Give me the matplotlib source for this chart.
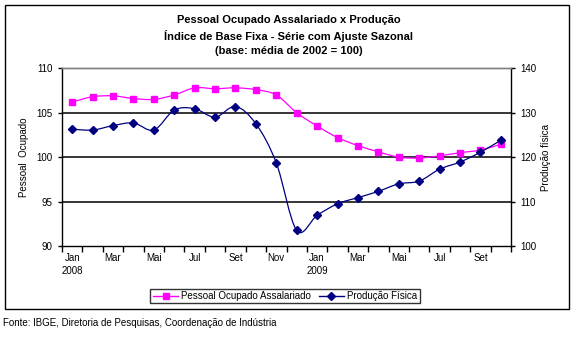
import matplotlib.pyplot as plt
from matplotlib.patches import PathPatch, Rectangle
from matplotlib.lines import Line2D
from matplotlib.path import Path
import numpy as np

plt.rcParams["font.family"] = ["Liberation Sans", "DejaVu Sans"]

months = ["Jan", "Fev", "Mar", "Abr", "Mai", "Jun", "Jul", "Ago", "Set", "Out", "Nov", "Dez",
          "Jan", "Fev", "Mar", "Abr", "Mai", "Jun", "Jul", "Ago", "Set", "Out"]
years = {0: "2008", 12: "2009"}

# Pessoal ocupado assalariado (eixo esquerdo)
pessoal = [106.2, 106.8, 106.9, 106.6, 106.5, 107.0, 107.8, 107.7, 107.8, 107.6, 107.0, 105.0,
           103.5, 102.2, 101.3, 100.6, 100.0, 99.9, 100.15, 100.5, 100.8, 101.45]
# Produção física (eixo direito)
producao = [126.3, 126.1, 127.1, 127.7, 126.1, 130.6, 130.9, 129.0, 131.4, 127.5, 118.7, 103.5,
            106.9, 109.5, 110.9, 112.3, 114.0, 114.6, 117.3, 118.9, 121.1, 123.8]

PINK = "#FF00FF"
NAVY = "#000080"
W, H = 578, 338


def smooth_path(x, y):
    # curva suavizada por segmentos de Bézier (tipo Catmull-Rom)
    pts = np.column_stack([x, y]).astype(float)
    n = len(pts)
    verts = [pts[0]]
    codes = [Path.MOVETO]
    for i in range(n - 1):
        p0 = pts[max(i - 1, 0)]
        p1 = pts[i]
        p2 = pts[i + 1]
        p3 = pts[min(i + 2, n - 1)]
        c1 = p1 + (p2 - p0) / 6.0
        c2 = p2 - (p3 - p1) / 6.0
        verts += [c1, c2, p2]
        codes += [Path.CURVE4] * 3
    return Path(verts, codes)


fig = plt.figure(figsize=(W / 100, H / 100), dpi=100)
fig.patches.append(Rectangle((5 / W, 1 - 309 / H), 564 / W, 304 / H, transform=fig.transFigure,
                             fill=False, edgecolor="black", lw=1.0, zorder=0))

ax = fig.add_axes([62 / W, 1 - 246 / H, 449 / W, 177.7 / H])
ax2 = ax.twinx()
x = np.arange(len(months))

ax.set_xlim(-0.5, len(months) - 0.5)
ax.set_ylim(90, 110)
ax2.set_ylim(100, 140)
ax.set_yticks([90, 95, 100, 105, 110])
ax2.set_yticks([100, 110, 120, 130, 140])

for v in [95, 100, 105]:
    ax.axhline(v, color="black", lw=1.1, zorder=1)

ax.add_patch(PathPatch(smooth_path(x, pessoal), fill=False, edgecolor=PINK, lw=0.9, zorder=3))
ax.plot(x, pessoal, ls="none", marker="s", ms=4.6, color=PINK, zorder=4)

ax.set_zorder(1)
ax.patch.set_visible(False)
ax2.set_zorder(2)
ax2.add_patch(PathPatch(smooth_path(x, producao), fill=False, edgecolor=NAVY, lw=0.9, zorder=3))
ax2.plot(x, producao, ls="none", marker="D", ms=4.3, color=NAVY, zorder=4)

# eixo x: marcas entre categorias, rótulos a cada dois meses
ax.set_xticks(np.arange(-0.5, len(months), 1.0), minor=True)
ax.set_xticks(x[::2])
ax.set_xticklabels([m + ("\n" + years[i] if i in years else "") for i, m in
                    zip(x[::2], months[::2])], linespacing=1.35)
ax.tick_params(axis="x", which="major", length=0, pad=5, labelsize=7)
ax.tick_params(axis="x", which="minor", length=4, width=1.0, color="black")
ax.tick_params(axis="y", length=3, width=1.0, labelsize=7, pad=4)
ax2.tick_params(axis="y", length=3, width=1.0, labelsize=7, pad=4)

for a in (ax, ax2):
    a.spines["top"].set_color("#808080")
    a.spines["top"].set_linewidth(1.0)
    for s in ("left", "right", "bottom"):
        a.spines[s].set_linewidth(1.0)
ax.spines["right"].set_visible(False)
ax2.spines["left"].set_visible(False)
ax2.spines["bottom"].set_visible(False)

ax.set_ylabel("Pessoal  Ocupado", fontsize=7, labelpad=5)
ax2.set_ylabel("Produção física", fontsize=7, labelpad=3)

fig.text(0.5, 1 - 20 / H, "Pessoal Ocupado Assalariado x Produção", ha="center", va="center",
         fontsize=8, fontweight="bold")
fig.text(0.5, 1 - 35.5 / H, "Índice de Base Fixa - Série com Ajuste Sazonal", ha="center",
         va="center", fontsize=8, fontweight="bold")
fig.text(0.5, 1 - 51 / H, "(base: média de 2002 = 100)", ha="center", va="center",
         fontsize=8, fontweight="bold")

handles = [Line2D([], [], color=PINK, lw=1.0, marker="s", ms=4.2),
           Line2D([], [], color=NAVY, lw=1.0, marker="D", ms=3.8)]
leg = fig.legend(handles, ["Pessoal Ocupado Assalariado", "Produção Física"], loc="center",
                 bbox_to_anchor=(285 / W, 1 - 296 / H), ncol=2, fontsize=7, frameon=True,
                 fancybox=False, edgecolor="black", handlelength=2.6, handletextpad=0.3,
                 columnspacing=0.8, borderpad=0.25, borderaxespad=0)
leg.get_frame().set_linewidth(1.0)

fig.text(3 / W, 1 - 323 / H, "Fonte: IBGE, Diretoria de Pesquisas, Coordenação de Indústria",
         ha="left", va="center", fontsize=7)

fig.savefig("out.png", dpi=100)
